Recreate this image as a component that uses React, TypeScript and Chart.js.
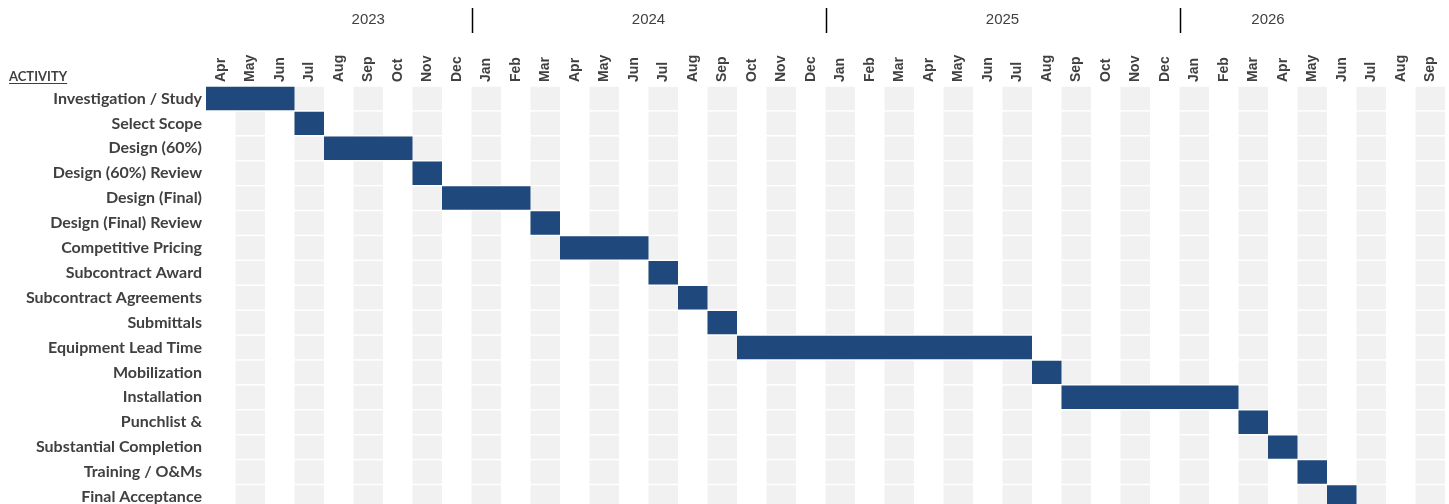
import React, { useEffect, useRef } from 'react';
import { Chart, registerables } from 'chart.js';

Chart.register(...registerables);

const activities: string[] = [
  'Investigation / Study',
  'Select Scope',
  'Design (60%)',
  'Design (60%) Review',
  'Design (Final)',
  'Design (Final) Review',
  'Competitive Pricing',
  'Subcontract Award',
  'Subcontract Agreements',
  'Submittals',
  'Equipment Lead Time',
  'Mobilization',
  'Installation',
  'Punchlist &',
  'Substantial Completion',
  'Training / O&Ms',
  'Final Acceptance',
];

// month index: 0 = Apr 2023 ... 41 = Sep 2026 (end is exclusive)
const startMonths: number[] = [0, 3, 4, 7, 8, 11, 12, 15, 16, 17, 18, 28, 29, 35, 36, 37, 38];
const endMonths: number[] = [3, 4, 7, 8, 11, 12, 15, 16, 17, 18, 28, 29, 35, 36, 37, 38, 39];

const monthLabels: string[] = [
  'Apr', 'May', 'Jun', 'Jul', 'Aug', 'Sep', 'Oct', 'Nov', 'Dec',
  'Jan', 'Feb', 'Mar', 'Apr', 'May', 'Jun', 'Jul', 'Aug', 'Sep', 'Oct', 'Nov', 'Dec',
  'Jan', 'Feb', 'Mar', 'Apr', 'May', 'Jun', 'Jul', 'Aug', 'Sep', 'Oct', 'Nov', 'Dec',
  'Jan', 'Feb', 'Mar', 'Apr', 'May', 'Jun', 'Jul', 'Aug', 'Sep',
];

const yearLabels: string[] = ['2023', '2024', '2025', '2026'];
const yearLabelPositions: number[] = [5.5, 15, 27, 36];
const yearBreaks: number[] = [9, 21, 33];

const BAR_COLOR = '#1F497D';
const CELL_COLOR = '#F1F1F1';
const TEXT_COLOR = '#404040';
const MONTH_FONT_SIZE = 14;
const MONTH_LINE_HEIGHT = 1.2;
const CANVAS_W = 1449;
const CANVAS_H = 523;

const ganttPlugin = {
  id: 'ganttDecor',
  beforeDatasetsDraw(chart: any) {
    const { ctx } = chart;
    const xs = chart.scales.x;
    const ys = chart.scales.y;
    const n = activities.length;
    const rowH = ys.height / n;
    const gap = 1.5;
    ctx.save();
    ctx.fillStyle = CELL_COLOR;
    for (let i = 1; i < monthLabels.length; i += 2) {
      const x0 = xs.getPixelForValue(i);
      const x1 = xs.getPixelForValue(i + 1);
      for (let j = 0; j < n; j++) {
        const yc = ys.getPixelForValue(j);
        ctx.fillRect(x0, yc - rowH / 2 + gap / 2, x1 - x0, rowH - gap);
      }
    }
    ctx.restore();
  },
  afterDraw(chart: any) {
    const { ctx } = chart;
    const xs = chart.scales.x;
    ctx.save();
    // year labels
    ctx.fillStyle = TEXT_COLOR;
    ctx.font = '15px "Liberation Sans", Arial, sans-serif';
    ctx.textAlign = 'center';
    ctx.textBaseline = 'middle';
    yearLabels.forEach((y, i) => {
      ctx.fillText(y, xs.getPixelForValue(yearLabelPositions[i]), 20);
    });
    // year separators
    ctx.strokeStyle = '#000000';
    ctx.lineWidth = 1.5;
    yearBreaks.forEach((b) => {
      const x = Math.round(xs.getPixelForValue(b)) + 0.5;
      ctx.beginPath();
      ctx.moveTo(x, 8);
      ctx.lineTo(x, 33);
      ctx.stroke();
    });
    // ACTIVITY header
    ctx.font = 'bold 13px Lato, "Open Sans", sans-serif';
    ctx.textAlign = 'left';
    ctx.textBaseline = 'alphabetic';
    ctx.fillStyle = TEXT_COLOR;
    const t = 'ACTIVITY';
    ctx.fillText(t, 9, 81);
    const w = ctx.measureText(t).width;
    ctx.strokeStyle = TEXT_COLOR;
    ctx.lineWidth = 1;
    ctx.beginPath();
    ctx.moveTo(9, 83.5);
    ctx.lineTo(9 + w, 83.5);
    ctx.stroke();
    ctx.restore();
  },
};

export default function App() {
  const canvasRef = useRef<HTMLCanvasElement | null>(null);

  useEffect(() => {
    if (!canvasRef.current) return;
    const chart = new Chart(canvasRef.current, {
      type: 'bar',
      data: {
        labels: activities,
        datasets: [
          {
            data: startMonths.map((s, i) => [s, endMonths[i]]) as any,
            backgroundColor: BAR_COLOR,
            borderWidth: 0,
            borderSkipped: false,
            barPercentage: 1,
            categoryPercentage: 0.94,
          },
        ],
      },
      options: {
        indexAxis: 'y',
        responsive: false,
        animation: false,
        maintainAspectRatio: false,
        layout: { padding: { left: 0, right: 4, top: 0, bottom: 0 } },
        plugins: {
          legend: { display: false },
          tooltip: { enabled: false },
        },
        scales: {
          x: {
            type: 'linear',
            position: 'top',
            min: 0,
            max: monthLabels.length,
            grid: { display: false, drawTicks: false },
            border: { display: false },
            afterBuildTicks: (scale: any) => {
              scale.ticks = monthLabels.map((_, i) => ({ value: i + 0.5 }));
            },
            afterFit: (scale: any) => {
              scale.height = 86;
            },
            ticks: {
              autoSkip: false,
              minRotation: 90,
              maxRotation: 90,
              padding: 4,
              labelOffset: MONTH_FONT_SIZE * MONTH_LINE_HEIGHT,
              color: TEXT_COLOR,
              font: {
                family: '"Liberation Sans", Arial, sans-serif',
                size: MONTH_FONT_SIZE,
                weight: 'bold',
                lineHeight: MONTH_LINE_HEIGHT,
              },
              callback: (_v: any, idx: number) => monthLabels[idx],
            },
          },
          y: {
            type: 'category',
            position: 'left',
            grid: { display: false, drawTicks: false },
            border: { display: false },
            afterFit: (scale: any) => {
              scale.width = 206;
            },
            ticks: {
              padding: 4,
              color: TEXT_COLOR,
              font: { family: 'Lato, "Open Sans", sans-serif', size: 16, weight: 'bold' },
            },
          },
        },
      },
      plugins: [ganttPlugin],
    });
    return () => chart.destroy();
  }, []);

  return (
    <div style={{ position: 'absolute', left: 0, top: 0, width: CANVAS_W, height: CANVAS_H }}>
      <canvas
        ref={canvasRef}
        width={CANVAS_W}
        height={CANVAS_H}
        style={{ display: 'block', width: CANVAS_W, height: CANVAS_H }}
      />
    </div>
  );
}
